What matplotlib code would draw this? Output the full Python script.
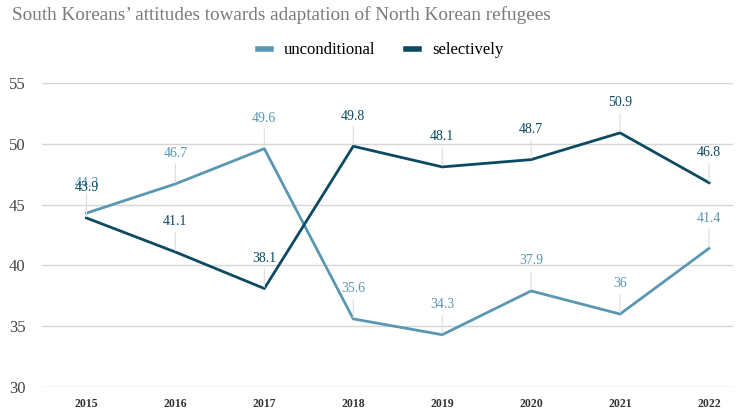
import matplotlib.pyplot as plt

# data
years = ["2015", "2016", "2017", "2018", "2019", "2020", "2021", "2022"]
unconditional = [44.3, 46.7, 49.6, 35.6, 34.3, 37.9, 36, 41.4]
selectively = [43.9, 41.1, 38.1, 49.8, 48.1, 48.7, 50.9, 46.8]
yticks = [30, 35, 40, 45, 50, 55]

c_unc = "#5b97b3"
c_sel = "#0b4a62"

plt.rcParams['font.family'] = ['Liberation Serif', 'DejaVu Serif']

fig = plt.figure(figsize=(7.39, 4.09), dpi=100)
ax = fig.add_axes([42/739, 1 - 387/409, 691/739, (387 - 83)/409])

x = list(range(len(years)))
ax.plot(x, unconditional, color=c_unc, lw=2, label="unconditional", zorder=3)
ax.plot(x, selectively, color=c_sel, lw=2, label="selectively", zorder=3)

def labels(vals, col):
    for i, v in enumerate(vals):
        txt = f"{v:g}"
        ax.annotate(txt, (i, v), xytext=(0, 17), textcoords="offset points",
                    ha="center", va="bottom", fontsize=10, color=col,
                    arrowprops=dict(arrowstyle="-", color="#dddddd", lw=0.8,
                                    shrinkA=1, shrinkB=1),
                    annotation_clip=False, zorder=4)

labels(unconditional, c_unc)
labels(selectively, c_sel)

ax.set_xlim(-0.5, 7.27)
ax.set_ylim(30, 55)
ax.set_yticks(yticks)
ax.set_xticks(x)
ax.set_xticklabels(years, fontsize=8.5, fontweight="bold", color="#333333")
ax.tick_params(axis="y", labelsize=12, colors="#444444", length=0, pad=12)
ax.tick_params(axis="x", length=0, pad=8)
ax.grid(axis="y", color="#d6d6d6", lw=1)
ax.set_axisbelow(True)
for s in ax.spines.values():
    s.set_visible(False)

fig.text(12/739, 1 - 15/409, "South Koreans\u2019 attitudes towards adaptation of North Korean refugees",
         fontsize=13.8, color="#7a7a7a", va="center", ha="left")

fig.legend(loc="center", bbox_to_anchor=(0.515, 1 - 50/409), ncol=2, frameon=False,
           handlelength=0.8, handletextpad=0.8, columnspacing=1.8, fontsize=12,
           handleheight=0.5)
for h in fig.legends[0].get_lines():
    h.set_linewidth(4)

fig.savefig("out.png", dpi=100)
